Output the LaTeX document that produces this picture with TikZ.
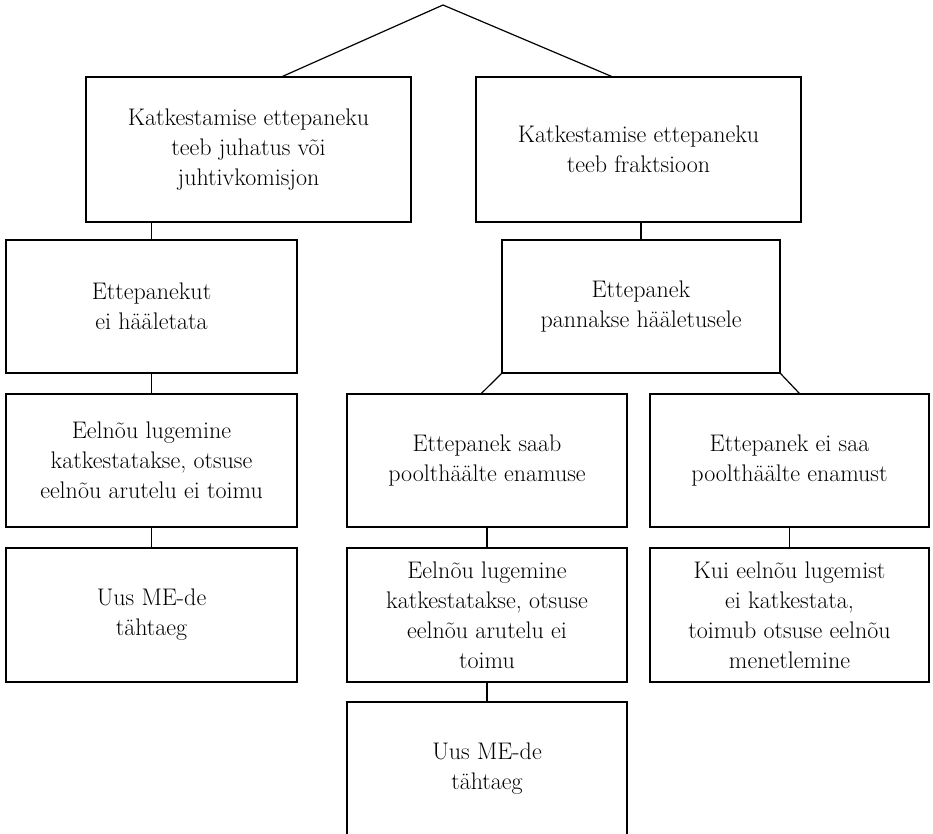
\documentclass[tikz,border=0pt]{standalone}
\usepackage{fontspec}
\usepackage{tikz}

\begin{document}
\begin{tikzpicture}[x=1pt,y=-1pt,
  box/.style={draw,line width=1.2pt,align=center,inner sep=0pt,
    font=\fontsize{24}{30}\selectfont},
  wide/.style={box,minimum width=325,minimum height=145},
  col/.style={box,minimum width=#1,minimum height=133}]
\useasboundingbox (0,0) rectangle (933,833);

\coordinate (top) at (443,5);
\node[wide] (kl) at (248.5,149.5) {Katkestamise ettepaneku\\teeb juhatus või\\juhtivkomisjon};
\node[wide] (kr) at (638.5,149.5) {Katkestamise ettepaneku\\teeb fraktsioon};

\node[col=291] (el) at (151.5,306.5) {Ettepanekut\\ei hääletata};
\node[col=291] (lkl) at (151.5,460.5) {Eelnõu lugemine\\katkestatakse, otsuse\\eelnõu arutelu ei toimu};
\node[col=291,minimum height=134] (uusl) at (151.5,615) {Uus ME-de\\tähtaeg};

\node[col=278] (kp) at (641,306.5) {Ettepanek\\pannakse hääletusele};
\node[col=280] (saab) at (487,460.5) {Ettepanek saab\\poolthäälte enamuse};
\node[col=280,minimum height=134] (lkm) at (487,615) {Eelnõu lugemine\\katkestatakse, otsuse\\eelnõu arutelu ei\\toimu};
\node[col=280,minimum height=134] (uusm) at (487,769) {Uus ME-de\\tähtaeg};
%\node[col=280] (uusm) at (487,760) {Uus ME-de\\tähtaeg};

\node[col=279] (eisaa) at (789.5,460.5) {Ettepanek ei saa\\poolthäälte enamust};
\node[col=279,minimum height=134] (kui) at (789.5,615) {Kui eelnõu lugemist\\ei katkestata,\\toimub otsuse eelnõu\\menetlemine};

 \draw[-,line width=1.2pt] ([xshift=34]kl.north) -- (top) -- ([xshift=-27]kr.north);
 \draw[-,line width=1.2pt] (el.north |- kl.south) -- (el.north);
 \draw[-,line width=1.2pt] (el.south) -- (lkl.north);
 \draw[-,line width=1.2pt] (lkl.south) -- (uusl.north);
 \draw[-,line width=1.2pt] (kp.north |- kr.south) -- (kp.north);
 \draw[-,line width=1.2pt] (kp.south west) -- ([xshift=135]saab.north west);
 \draw[-,line width=1.2pt] (kp.south east) -- ([xshift=150]eisaa.north west);
 \draw[-,line width=1.2pt] (saab.south) -- (lkm.north);
 \draw[-,line width=1.2pt] (lkm.south) -- (uusm.north);
 \draw[-,line width=1.2pt] (eisaa.south) -- (kui.north);

\end{tikzpicture}
\end{document}
